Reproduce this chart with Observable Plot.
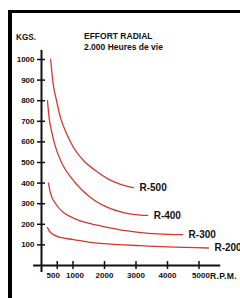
<!DOCTYPE html>
<html>
<head>
<meta charset="utf-8">
<script src="https://cdn.jsdelivr.net/npm/d3@7"></script>
<script src="https://cdn.jsdelivr.net/npm/@observablehq/plot@0.6"></script>
<style>
  html, body { margin: 0; padding: 0; background: #fff; width: 240px; height: 298px; overflow: hidden; }
  #wrap { position: relative; width: 240px; height: 298px; font-family: "Liberation Sans", Arial, sans-serif; font-weight: bold; color: #111; }
  #frame { position: absolute; left: 8px; top: 10px; width: 260px; height: 320px; border-top: 3px solid #000; border-left: 4px solid #000; box-sizing: border-box; }
  .lbl { position: absolute; white-space: nowrap; line-height: 1; }
</style>
</head>
<body>
<div id="wrap">
  <div id="frame"></div>
  <div id="chart"></div>
  <div class="lbl" style="left:16px;top:34px;font-size:8.2px;">KGS.</div>
  <div class="lbl" style="left:84px;top:32px;font-size:8.5px;">EFFORT RADIAL</div>
  <div class="lbl" style="left:84px;top:43px;font-size:8.5px;">2.000 Heures de vie</div>
  <div class="lbl" style="left:210px;top:272px;font-size:8.6px;letter-spacing:0.3px;">R.P.M.</div>
</div>
<script>
const yTicks = [100, 200, 300, 400, 500, 600, 700, 800, 900, 1000];
const xTicks = [500, 1000, 2000, 3000, 4000, 5000];

const seriesNames = ["R-500", "R-400", "R-300", "R-200"];
const rpmR500 = [290, 370, 476, 603, 794, 1016, 1333, 1714, 2095, 2508, 2920];
const kgR500  = [1000, 883, 801, 718, 641, 573, 510, 461, 422, 394, 378];
const rpmR400 = [190, 240, 330, 476, 635, 1016, 1556, 2095, 2603, 3143, 3370];
const kgR400  = [800, 720, 645, 560, 500, 412, 330, 282, 257, 245, 243];
const rpmR300 = [222, 286, 444, 698, 1016, 1556, 2095, 2603, 3143, 3700, 4480];
const kgR300  = [400, 350, 301, 257, 230, 203, 185, 170, 160, 154, 150];
const rpmR200 = [190, 286, 603, 1016, 1556, 1873, 2603, 3143, 4000, 5300];
const kgR200  = [184, 160, 136, 126, 112, 107, 100, 96, 90, 85];

const rpms = [rpmR500, rpmR400, rpmR300, rpmR200];
const kgs = [kgR500, kgR400, kgR300, kgR200];
const table = seriesNames.flatMap((s, i) => rpms[i].map((r, j) => ({series: s, rpm: r, kg: kgs[i][j]})));
const ends = seriesNames.map((s, i) => ({series: s, rpm: rpms[i][rpms[i].length - 1], kg: kgs[i][kgs[i].length - 1]}));

const red = "#d4382c";
const labelStyle = {tickSize: 0, tickPadding: 7, tickFormat: d => String(d), fontWeight: "bold", fontSize: 8, fill: "#111", label: null};

const chart = Plot.plot({
  width: 240,
  height: 298,
  marginLeft: 41,
  marginRight: 10,
  marginTop: 59,
  marginBottom: 33,
  style: {fontFamily: "Liberation Sans, Arial, sans-serif", fontSize: "8px", fontWeight: "bold", background: "transparent", color: "#111"},
  x: {domain: [0, 6000], label: null},
  y: {domain: [0, 1000], label: null},
  marks: [
    Plot.ruleX([0], {y1: -34, y2: 1044, stroke: "#111", strokeWidth: 2}),
    Plot.ruleY([0], {x1: -250, x2: 5690, stroke: "#111", strokeWidth: 2}),
    Plot.axisY(yTicks, {tickSize: 8, dx: 4, tickFormat: () => "", strokeWidth: 1.5, stroke: "#111", label: null}),
    Plot.axisY(yTicks, labelStyle),
    Plot.axisX(xTicks, {tickSize: 8, dy: -4, tickFormat: () => "", strokeWidth: 1.5, stroke: "#111", label: null}),
    Plot.axisX(xTicks.filter(d => d === 500), {...labelStyle, dx: -4}),
    Plot.axisX(xTicks.filter(d => d === 1000 || d === 5000), {...labelStyle, dx: 2}),
    Plot.axisX(xTicks.filter(d => d > 1000 && d < 5000), labelStyle),
    Plot.line(table, {x: "rpm", y: "kg", z: "series", stroke: red, strokeWidth: 1.3, curve: "monotone-x"}),
    Plot.text(ends, {x: "rpm", y: "kg", text: "series", textAnchor: "start", dx: 6, fontSize: 10, fontWeight: "bold", fill: "#111"})
  ]
});
document.getElementById("chart").appendChild(chart);
</script>
</body>
</html>
